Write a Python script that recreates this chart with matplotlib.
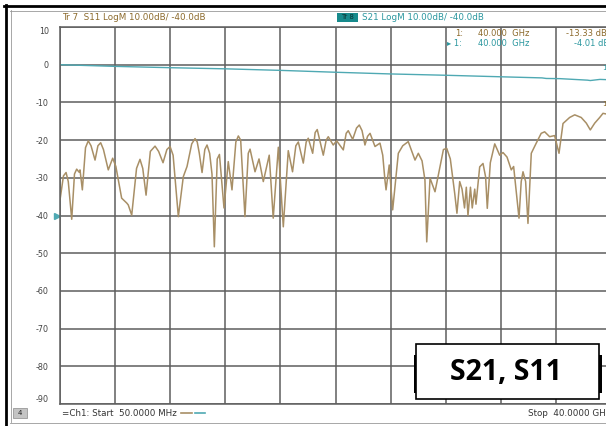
import matplotlib.pyplot as plt
from matplotlib.patches import Rectangle
from matplotlib.lines import Line2D

# S11 trace (GHz, dB)
s11_ghz = [0.05, 0.30, 0.49, 0.65, 0.90, 1.10, 1.26, 1.43, 1.50, 1.67, 1.90, 2.10, 2.30,
           2.59, 2.80, 3.00, 3.20, 3.55, 3.87, 4.10, 4.52, 4.89, 5.00, 5.25, 5.60, 5.85,
           6.05, 6.29, 6.60, 6.94, 7.20, 7.52, 7.80, 8.03, 8.25, 8.63, 8.99, 9.26, 9.60,
           9.84, 10.0, 10.15, 10.35, 10.55, 10.71, 10.90, 11.07, 11.24, 11.45, 11.61,
           11.94, 12.25, 12.52, 12.80, 12.98, 13.15, 13.46, 13.70, 13.83, 14.19, 14.48,
           14.79, 15.22, 15.51, 15.88, 16.24, 16.60, 16.91, 17.15, 17.33, 17.69, 17.90,
           18.05, 18.37, 18.55, 18.70, 19.14, 19.35, 19.50, 19.86, 20.11, 20.59, 20.80,
           20.95, 21.27, 21.55, 21.75, 21.95, 22.16, 22.35, 22.53, 22.89, 23.25, 23.45,
           23.61, 23.69, 23.92, 24.17, 24.58, 24.90, 25.30, 25.79, 26.03, 26.30, 26.51,
           26.64, 26.88, 27.24, 27.60, 27.85, 28.09, 28.35, 28.67, 28.83, 29.03, 29.20,
           29.38, 29.51, 29.63, 29.81, 29.94, 30.12, 30.21, 30.48, 30.72, 30.91, 31.03,
           31.25, 31.57, 31.93, 32.17, 32.46, 32.77, 32.94, 33.33, 33.49, 33.62, 33.81,
           33.98, 34.22, 34.58, 34.94, 35.19, 35.55, 35.91, 36.23, 36.52, 37.00, 37.37,
           37.84, 38.21, 38.50, 38.82, 39.18, 39.42, 40.0]
s11_db = [-35.9, -29.5, -28.6, -31.0, -41.0, -29.0, -27.7, -28.5, -27.9, -33.2, -22.0, -20.2, -21.5,
          -25.3, -21.5, -20.7, -22.5, -27.9, -24.8, -27.0, -35.4, -36.7, -37.2, -39.9, -27.5, -25.1,
          -27.5, -34.6, -23.0, -21.6, -23.0, -26.0, -22.5, -21.7, -24.0, -40.3, -29.7, -27.0, -21.0,
          -19.6, -20.5, -23.5, -28.6, -22.5, -21.3, -23.5, -29.0, -48.3, -25.0, -23.8,
          -38.0, -25.7, -33.2, -20.5, -18.9, -20.0, -40.3, -23.5, -22.4, -28.4, -25.0,
          -31.0, -24.0, -40.7, -21.9, -43.0, -22.8, -28.4, -21.5, -20.5, -26.1, -20.5,
          -19.5, -23.5, -18.0, -17.2, -24.0, -20.0, -19.1, -21.3, -20.2, -22.6, -18.2,
          -17.5, -19.8, -16.8, -16.0, -17.5, -21.3, -19.0, -18.2, -21.7, -20.8, -24.0,
          -30.6, -33.2, -26.6, -38.5, -23.5, -21.5, -20.4, -25.3, -23.5, -25.5, -30.6,
          -47.0, -30.1, -33.7, -27.1, -22.5, -22.2, -25.0, -34.2, -39.4, -31.0, -33.0,
          -38.0, -32.5, -40.0, -32.5, -38.0, -33.0, -37.0, -27.1, -26.2, -29.8, -38.1,
          -26.0, -21.0, -24.0, -23.3, -24.5, -27.9, -27.0, -40.7, -31.0, -28.4, -31.0,
          -42.1, -23.5, -20.8, -18.2, -17.8, -19.1, -18.8, -23.5, -15.6, -14.0, -13.3,
          -14.0, -15.5, -17.3, -15.5, -14.0, -12.9, -13.33]

# S21 trace (GHz, dB)
s21_ghz = [0.05, 4.11, 8.1, 12.1, 16.0, 20.0, 24.0, 28.0, 31.95, 35.0, 35.3,
           36.3, 38.3, 38.5, 39.2, 40.0]
s21_db = [0.0, -0.45, -0.8, -1.1, -1.5, -2.0, -2.45, -2.8, -3.2, -3.5, -3.65,
          -3.7, -4.1, -4.2, -3.9, -4.01]

y_ticks = [10, 0, -10, -20, -30, -40, -50, -60, -70, -80, -90]
y_labels = ['10', '0', '-10', '-20', '-30', '-40', '-50', '-60', '-70', '-80', '-90']
start_ghz, stop_ghz = 0.05, 40.0
ref_level = -40

c_s11 = '#a88f66'
c_s21 = '#4fa9b3'
c_s11_txt = '#8c6a2c'
c_s21_txt = '#2b979f'
grid_c = '#5e5e5e'

W, H = 606, 426
def fx(x):
    return x / W
def fy(y):
    return 1 - y / H

plt.rcParams['font.family'] = ['DejaVu Sans']
fig = plt.figure(figsize=(W / 100, H / 100), dpi=100)

ax = fig.add_axes([fx(60), fy(404), (611 - 60) / W, (404 - 27) / H])
ax.set_xlim(start_ghz, stop_ghz)
ax.set_ylim(-90, 10)
step = (stop_ghz - start_ghz) / 10
ax.set_xticks([start_ghz + step * i for i in range(11)])
ax.set_xticklabels([])
ax.set_yticks(y_ticks)
ax.set_yticklabels(y_labels, fontsize=5.8, color='#444444')
ax.tick_params(length=0, pad=8)
ylab = ax.get_yticklabels()
ylab[0].set_va('top')
ylab[-1].set_va('bottom')
ax.grid(True, color=grid_c, lw=1.1)
for s in ax.spines.values():
    s.set_color(grid_c)
    s.set_linewidth(1.1)

ax.plot(s21_ghz, s21_db, color=c_s21, lw=1.0)
ax.plot(s11_ghz, s11_db, color=c_s11, lw=1.1)

# reference position arrow
ax.plot([-0.006], [ref_level], marker='>', color=c_s21, ms=4,
        transform=ax.get_yaxis_transform(), clip_on=False)

# marker 1 labels at stop frequency
ax.annotate('1', (s21_ghz[-1], s21_db[-1]), xytext=(-3, 6), textcoords='offset points',
            ha='right', va='bottom', fontsize=5, color=c_s21_txt, annotation_clip=False)
ax.annotate('1', (s11_ghz[-1], s11_db[-1]), xytext=(-3, 6), textcoords='offset points',
            ha='right', va='bottom', fontsize=5, color=c_s11_txt, annotation_clip=False)

# outer window frame
fig.add_artist(Line2D([fx(4), fx(606)], [fy(5.5), fy(5.5)], color='black', lw=2))
fig.add_artist(Line2D([fx(6), fx(6)], [fy(4.5), fy(426)], color='black', lw=2))
fig.add_artist(Line2D([fx(10), fx(606)], [fy(10.5), fy(10.5)], color='#999999', lw=0.6))
fig.add_artist(Line2D([fx(10.5), fx(10.5)], [fy(10), fy(422)], color='#999999', lw=0.6))
fig.add_artist(Line2D([fx(10), fx(606)], [fy(422.5), fy(422.5)], color='#999999', lw=0.6))

# trace headers
fig.text(fx(62), fy(17), 'Tr 7  S11 LogM 10.00dB/ -40.0dB', fontsize=6.3,
         color=c_s11_txt, va='center')
fig.add_artist(Rectangle((fx(337), fy(22)), 21 / W, 9 / H, transform=fig.transFigure,
                         facecolor='#178a8c', edgecolor='none'))
fig.text(fx(347.5), fy(17.3), 'Tr 8', fontsize=5, color='#0a3434', va='center', ha='center')
fig.text(fx(362), fy(17), 'S21 LogM 10.00dB/ -40.0dB', fontsize=6.3,
         color=c_s21_txt, va='center')

# marker readout
fig.text(fx(455), fy(33), '1:', fontsize=6, color=c_s11_txt, va='center')
fig.text(fx(478), fy(33), '40.000  GHz', fontsize=6, color=c_s11_txt, va='center')
fig.text(fx(566), fy(33), '-13.33 dB', fontsize=6, color=c_s11_txt, va='center')
fig.text(fx(447), fy(43.5), '\u25b8 1:', fontsize=6, color=c_s21_txt, va='center')
fig.text(fx(478), fy(43.5), '40.000  GHz', fontsize=6, color=c_s21_txt, va='center')
fig.text(fx(574), fy(43.5), '-4.01 dB', fontsize=6, color=c_s21_txt, va='center')

# status bar
fig.add_artist(Rectangle((fx(13), fy(417.5)), 14 / W, 9.5 / H, transform=fig.transFigure,
                         facecolor='#c4c4c4', edgecolor='#8a8a8a', lw=0.5))
fig.text(fx(20), fy(412.7), '4', fontsize=5, color='#222222', va='center', ha='center')
fig.text(fx(62), fy(413), '=Ch1: Start  50.0000 MHz', fontsize=6.3, color='#333333', va='center')
fig.add_artist(Line2D([fx(181), fx(192)], [fy(413), fy(413)], color=c_s11, lw=1.2))
fig.add_artist(Line2D([fx(195), fx(205)], [fy(413), fy(413)], color=c_s21, lw=1.2))
fig.text(fx(528), fy(414), 'Stop  40.0000 GHz', fontsize=6.3, color='#333333', va='center')

# label box
fig.add_artist(Rectangle((fx(413.5), fy(393)), 188 / W, 38 / H, transform=fig.transFigure,
                         facecolor='black', edgecolor='none'))
fig.add_artist(Rectangle((fx(416), fy(399)), 183 / W, 55 / H, transform=fig.transFigure,
                         facecolor='white', edgecolor='black', lw=1.2))
fig.text(fx(506), fy(372.5), 'S21, S11', fontsize=20.5, fontweight='bold',
         family='Open Sans', color='black', ha='center', va='center')

fig.savefig('out.png', dpi=100)
